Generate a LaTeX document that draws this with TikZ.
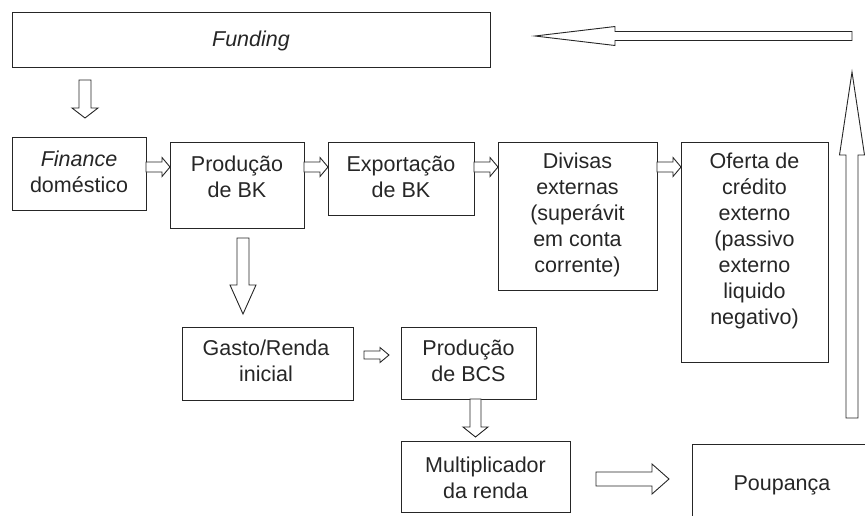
\documentclass[tikz,border=0pt]{standalone}
\usepackage{fontspec}
\setmainfont{Liberation Sans}
\usetikzlibrary{calc}
\newcommand\ml[1]{\begin{tabular}[t]{@{}c@{}}#1\end{tabular}}
\newcommand\bx[5]{\node[box,minimum width={(#4-(#2))*1pt},minimum height={(#5-(#3))*1pt}] (#1) at ({(#2+#4)/2},{(#3+#5)/2}) {};}
\newcommand\harr[5]{\draw[blk] let \p1=(#1),\p2=(#2),\n1={sign(\x2-\x1)*#5} in
  (\x1,{\y1+#3pt}) -- ({\x2-(\n1)*1pt},{\y1+#3pt}) -- ({\x2-(\n1)*1pt},{\y1+#4pt}) -- (\x2,\y1)
  -- ({\x2-(\n1)*1pt},{\y1-#4pt}) -- ({\x2-(\n1)*1pt},{\y1-#3pt}) -- (\x1,{\y1-#3pt}) -- cycle;}
\newcommand\varr[5]{\draw[blk] let \p1=(#1),\p2=(#2),\n1={sign(\y2-\y1)*#5} in
  ({\x1+#3pt},\y1) -- ({\x1+#3pt},{\y2-(\n1)*1pt}) -- ({\x1+#4pt},{\y2-(\n1)*1pt}) -- (\x1,\y2)
  -- ({\x1-#4pt},{\y2-(\n1)*1pt}) -- ({\x1-#3pt},{\y2-(\n1)*1pt}) -- ({\x1-#3pt},\y1) -- cycle;}
\begin{document}
\begin{tikzpicture}[x=1pt,y=-1pt,
  box/.style={draw=black!85,line width=1pt,rectangle,inner sep=0pt,outer sep=0pt},
  txt/.style={anchor=base,inner sep=0pt,text=black!85,font=\fontsize{21.5}{26}\selectfont},
  blk/.style={draw=black!85,line width=0.9pt,fill=white,line join=miter}]
\useasboundingbox (0,0) rectangle (865,515);
\clip (0,0) rectangle (865,515);
% boxes
\bx{funding}{12}{12}{490}{67}
\node[txt] (fundingt) at (251,46) {\textit{Funding}};
\bx{finance}{12}{137}{146}{210}
\node[txt] (financet) at (79,166) {\ml{\textit{Finance}\\doméstico}};
\bx{prodbk}{170}{142}{304}{228}
\node[txt] (prodbkt) at (237,171) {\ml{Produção\\de BK}};
\bx{export}{328}{142}{474}{215}
\node[txt] (exportt) at (401,171) {\ml{Exportação\\de BK}};
\bx{divisas}{498}{142}{657}{290}
\node[txt] (divisast) at (577.5,168) {\ml{Divisas\\externas\\(superávit\\em conta\\corrente)}};
\bx{oferta}{681}{142}{828}{362}
\node[txt] (ofertat) at (754.5,168) {\ml{Oferta de\\crédito\\externo\\(passivo\\externo\\liquido\\negativo)}};
\bx{gasto}{182}{327}{353}{400}
\node[txt] (gastot) at (266,355) {\ml{Gasto/Renda\\inicial}};
\bx{bcs}{401}{327}{536}{399}
\node[txt] (bcst) at (468.5,355) {\ml{Produção\\de BCS}};
\bx{mult}{401}{441}{570}{512}
\node[txt] (multt) at (485.5,472) {\ml{Multiplicador\\da renda}};
\node[inner sep=0pt,minimum width=180pt,minimum height=80pt] (poup) at (783,485) {};
\draw[draw=black!85,line width=1pt] (poup.north east) -- (poup.north west) -- (poup.south west);
\node[txt] (poupt) at (782,490) {Poupança};
% arrows
\coordinate (a1s) at (85,80);   \coordinate (a1e) at (85,118);
\varr{a1s}{a1e}{6}{13}{10}
\coordinate (a2s) at (852,36);  \coordinate (a2e) at (535,36);
\harr{a2s}{a2e}{4.5}{9.5}{80}
\coordinate (a3s) at (852,418); \coordinate (a3e) at (852,72);
\varr{a3s}{a3e}{6}{12.5}{83}
\coordinate (a4s) at (finance.east |- 0,167); \coordinate (a4e) at (prodbk.west |- 0,167);
\harr{a4s}{a4e}{5}{9.5}{8}
\coordinate (a5s) at (prodbk.east |- 0,167); \coordinate (a5e) at (export.west |- 0,167);
\harr{a5s}{a5e}{5}{9.5}{8}
\coordinate (a6s) at (export.east |- 0,167); \coordinate (a6e) at (divisas.west |- 0,167);
\harr{a6s}{a6e}{5}{9.5}{8}
\coordinate (a7s) at (divisas.east |- 0,167); \coordinate (a7e) at (oferta.west |- 0,167);
\harr{a7s}{a7e}{5}{9.5}{8}
\coordinate (a8s) at (243,238); \coordinate (a8e) at (243,314);
\varr{a8s}{a8e}{6}{13}{29}
\coordinate (a9s) at (364,355); \coordinate (a9e) at (389,355);
\harr{a9s}{a9e}{4}{7.5}{9}
\coordinate (a10s) at (475.5,399); \coordinate (a10e) at (475.5,437);
\varr{a10s}{a10e}{5.5}{12.5}{10}
\coordinate (a11s) at (596,479); \coordinate (a11e) at (669,479);
\harr{a11s}{a11e}{7}{15}{17}
\end{tikzpicture}
\end{document}
